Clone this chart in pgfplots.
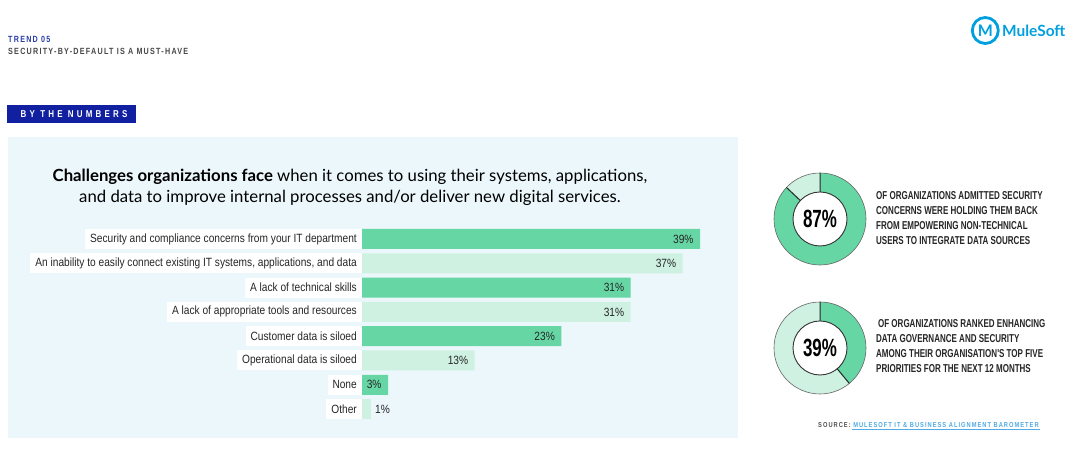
\documentclass[border=0pt]{standalone}
\usepackage{pgfplots}
\pgfplotsset{compat=1.18}
\usepackage{fontspec}
\setmainfont{Liberation Sans}
\newfontfamily\cond[FakeStretch=0.85]{Liberation Sans}
\newfontfamily\condn[FakeStretch=0.7]{Liberation Sans}
\newfontfamily\condp[FakeStretch=0.68]{Liberation Sans}
\newfontfamily\condw[FakeStretch=0.8,LetterSpace=14]{Liberation Sans}
\newfontfamily\condb[FakeStretch=0.8,LetterSpace=32]{Liberation Sans}
\newfontfamily\titlefont{Lato}
\definecolor{dkgreen}{RGB}{102,214,164}
\definecolor{ltgreen}{RGB}{206,241,225}
\definecolor{panel}{RGB}{236,247,252}
\definecolor{navy}{RGB}{16,32,160}
\definecolor{hdrblue}{RGB}{42,62,170}
\definecolor{txt}{RGB}{38,38,38}
\definecolor{mule}{RGB}{0,160,223}
\definecolor{link}{RGB}{80,170,230}
\begin{document}
\begin{tikzpicture}
\begin{scope}[x=1bp,y=1bp]
\path[use as bounding box] (0,0) rectangle (1080,455);
\fill[white] (0,0) rectangle (1080,455);
% header
\node[anchor=west,inner sep=0,text=hdrblue,font=\condw\bfseries\fontsize{9}{10}\selectfont] at (8,416) {TREND 05};
\node[anchor=west,inner sep=0,text=txt!85,font=\condw\bfseries\fontsize{9}{10}\selectfont] at (8,404) {SECURITY-BY-DEFAULT IS A MUST-HAVE};
\fill[navy] (7,350) rectangle (136,332);
\node[text=white,inner sep=0,font=\condb\bfseries\fontsize{10}{11}\selectfont] at (74,341) {BY THE NUMBERS};
% logo
\draw[mule,line width=2.8bp] (985.3,424.5) circle[radius=13];
\node[text=mule,inner sep=0,font=\titlefont\bfseries\fontsize{16}{16}\selectfont] at (985.3,424) {M};
\node[anchor=west,inner sep=0,text=mule,font=\titlefont\bfseries\fontsize{15.5}{15.5}\selectfont] at (1002,424.5) {MuleSoft};
% panel
\fill[panel] (8,318) rectangle (738,17);
% title
\node[align=center,inner sep=0,text=black,font=\titlefont\fontsize{16.8}{21}\selectfont] at (350,267.5) {\textbf{Challenges organizations face} when it comes to using their systems, applications,\\ and data to improve internal processes and/or deliver new digital services.};
\end{scope}
% bar chart
\begin{axis}[
  at={(362bp,228.15bp)}, anchor=north west,
  x=8.6667bp, y=24.3bp,
  xbar, bar width=20bp, bar shift=0pt,
  xmin=0, xmax=39, ymin=-0.5, ymax=7.5, y dir=reverse,
  clip=false,
  axis line style={draw=none},
  xtick=\empty,
  ytick={0,1,2,3,4,5,6,7},
  major tick length=0pt,
  yticklabels={Security and compliance concerns from your IT department,
    {An inability to easily connect existing IT systems, applications, and data},
    A lack of technical skills,
    A lack of appropriate tools and resources,
    Customer data is siloed,
    Operational data is siloed,
    None, Other},
  yticklabel style={fill=white,text=txt,inner xsep=5bp,minimum height=20bp,anchor=east,
     font=\cond\fontsize{12}{13}\selectfont},
  /pgf/number format/assume math mode=true,
  nodes near coords={\pgfmathprintnumber{\pgfplotspointmeta}\%},
  every node near coord/.append style={font=\cond\fontsize{12}{13}\selectfont,text=txt},
]
\addplot[fill=dkgreen,draw=none,every node near coord/.append style={anchor=east,xshift=-3bp}] coordinates {(39,0) (31,2) (23,4) (3,6)};
\addplot[fill=ltgreen,draw=none,every node near coord/.append style={anchor=east,xshift=-3bp}] coordinates {(37,1) (31,3) (13,5)};
\addplot[fill=ltgreen,draw=none,every node near coord/.append style={anchor=west,xshift=1bp}] coordinates {(1,7)};
\end{axis}
\begin{scope}[x=1bp,y=1bp]
% donuts
\def\donut#1#2#3{%
  \pgfmathsetmacro\endang{90-3.6*#3}
  \begin{scope}[shift={(#1,#2)}]
    \fill[ltgreen] (0,0) circle[radius=46];
    \fill[dkgreen] (90:46) arc[start angle=90,end angle=\endang,radius=46] -- (\endang:27) arc[start angle=\endang,end angle=90,radius=27] -- cycle;
    \fill[white] (0,0) circle[radius=27];
    \draw[black!80,line width=0.9bp] (0,0) circle[radius=27];
    \draw[black!60,line width=0.6bp] (0,0) circle[radius=46];
    \draw[black!85,line width=1bp] (90:27) -- (90:46) (\endang:27) -- (\endang:46);
    \node[inner sep=0,text=black,font=\condp\bfseries\fontsize{25}{25}\selectfont] at (0,0) {#3\%};
  \end{scope}}
\donut{820}{236}{87}
\donut{820}{107}{39}
\node[anchor=north west,inner sep=0,align=left,text=txt,font=\condn\bfseries\fontsize{11.5}{15.2}\selectfont] at (876,264) {OF ORGANIZATIONS ADMITTED SECURITY\\CONCERNS WERE HOLDING THEM BACK\\FROM EMPOWERING NON-TECHNICAL\\USERS TO INTEGRATE DATA SOURCES};
\node[anchor=north west,inner sep=0,align=left,text=txt,font=\condn\bfseries\fontsize{11.5}{15.2}\selectfont] at (876,136) {\,OF ORGANIZATIONS RANKED ENHANCING\\DATA GOVERNANCE AND SECURITY\\AMONG THEIR ORGANISATION'S TOP FIVE\\PRIORITIES FOR THE NEXT 12 MONTHS};
% source
\node[anchor=west,inner sep=0,font=\condw\bfseries\fontsize{7.2}{9}\selectfont] at (818,30) {\textcolor{txt!80}{SOURCE:} \textcolor{link}{MULESOFT IT \& BUSINESS ALIGNMENT BAROMETER}};
\draw[link,line width=0.7bp] (852,25.3) -- (1040,25.3);
\end{scope}
\end{tikzpicture}
\end{document}
